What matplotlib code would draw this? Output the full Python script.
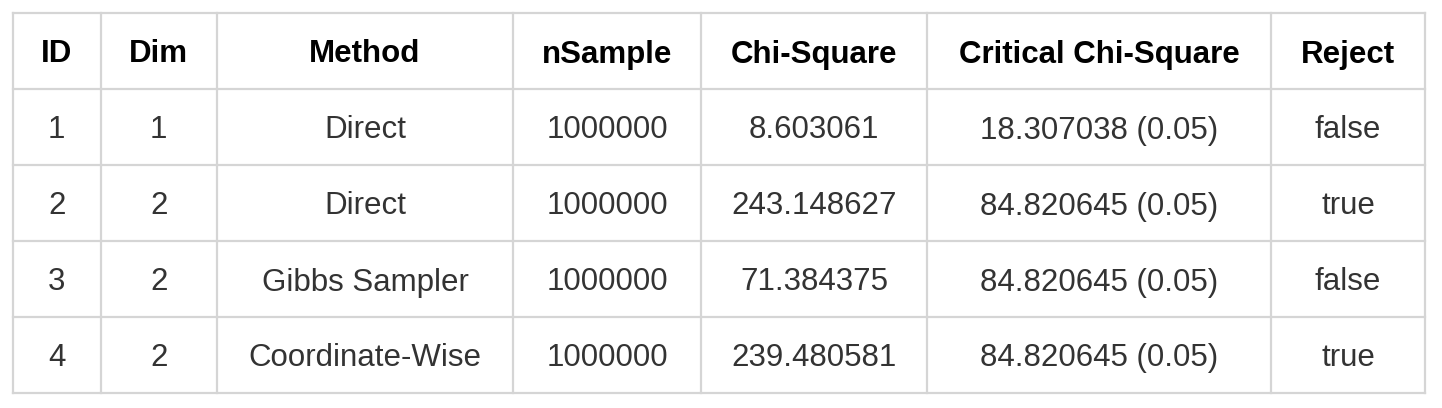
import matplotlib
matplotlib.use("Agg")
import matplotlib.pyplot as plt

headers = ["ID", "Dim", "Method", "nSample", "Chi-Square", "Critical Chi-Square", "Reject"]
ids = ["1", "2", "3", "4"]
dims = ["1", "2", "2", "2"]
methods = ["Direct", "Direct", "Gibbs Sampler", "Coordinate-Wise"]
nsamples = ["1000000", "1000000", "1000000", "1000000"]
chi_square = ["8.603061", "243.148627", "71.384375", "239.480581"]
critical = ["18.307038 (0.05)", "84.820645 (0.05)", "84.820645 (0.05)", "84.820645 (0.05)"]
reject = ["false", "true", "false", "true"]

W, H = 1442, 408
fig = plt.figure(figsize=(W / 100, H / 100), dpi=100)
ax = fig.add_axes([0, 0, 1, 1])
ax.set_xlim(0, W)
ax.set_ylim(H, 0)
ax.axis("off")

col_edges = [13, 100.5, 217, 513, 701, 927, 1271, 1425]
row_edges = [13, 89, 165, 241, 317, 392.5]
line_color = "#d5d5d5"
lw = 1.6

for x in col_edges:
    ax.plot([x, x], [row_edges[0], row_edges[-1]], color=line_color, lw=lw, solid_capstyle="projecting")
for y in row_edges:
    ax.plot([col_edges[0], col_edges[-1]], [y, y], color=line_color, lw=lw, solid_capstyle="projecting")

font = ["Liberation Sans", "DejaVu Sans"]
fs = 22.5

def cx(i):
    return (col_edges[i] + col_edges[i + 1]) / 2

def cy(j):
    return (row_edges[j] + row_edges[j + 1]) / 2

for i, h in enumerate(headers):
    ax.text(cx(i), cy(0), h, ha="center", va="center_baseline", fontsize=fs,
            fontweight="bold", color="#000000", family=font)

columns = [ids, dims, methods, nsamples, chi_square, critical, reject]
for i, col in enumerate(columns):
    for j, val in enumerate(col):
        ax.text(cx(i), cy(j + 1), val, ha="center", va="center_baseline", fontsize=fs,
                color="#333333", family=font)

fig.savefig("out.png", dpi=100, facecolor="white")
